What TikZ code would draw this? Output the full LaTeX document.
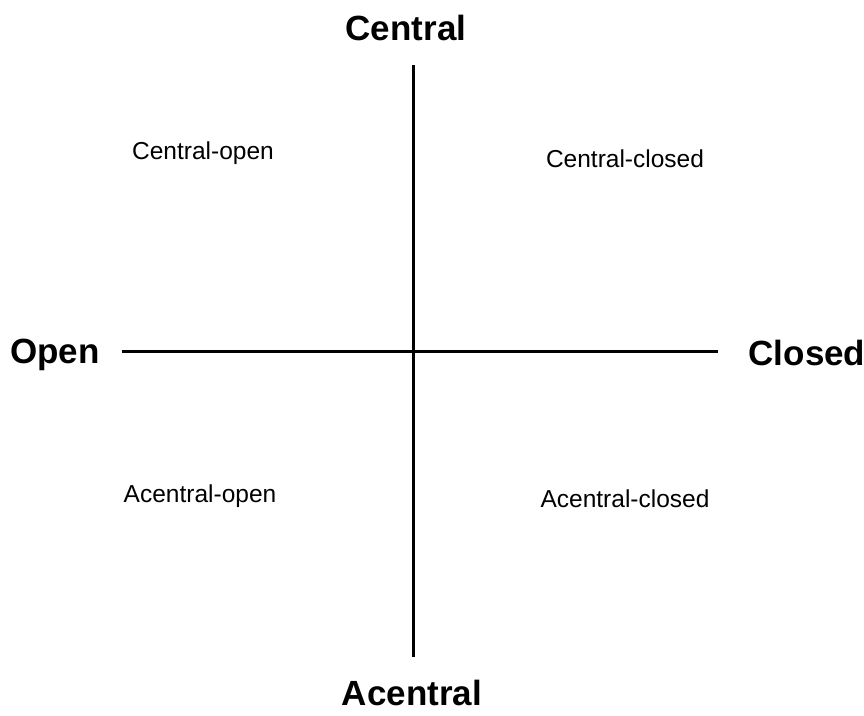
\documentclass[tikz,border=0pt]{standalone}
\usepackage{fontspec}
\setmainfont{Liberation Sans}
\begin{document}
\begin{tikzpicture}[x=1pt,y=-1pt,
  axis/.style={line width=3pt},
  pole/.style={font=\fontsize{35}{40}\selectfont\bfseries, inner sep=0pt, anchor=base},
  quad/.style={font=\fontsize{24.5}{28}\selectfont, inner sep=0pt, anchor=base}]
\useasboundingbox[fill=white] (0,0) rectangle (864,715);
\node[pole] (c) at (406,40.5) {Central};
\node[pole] (a) at (412,705.5) {Acentral};
\node[pole] (o) at (55,363.5) {Open};
\node[pole] (cl) at (807,365.5) {Closed};
\coordinate (vt) at (413,65);
\coordinate (vb) at (413,657);
\coordinate (hl) at (122,351);
\coordinate (hr) at (718,351);
\draw[axis] (vt) -- (vb);
\draw[axis] (hl) -- (hr);
\node[quad] (co) at (203,159) {Central-open};
\node[quad] (cc) at (625,167) {Central-closed};
\node[quad] (ao) at (200,502) {Acentral-open};
\node[quad] (ac) at (625,507) {Acentral-closed};
\end{tikzpicture}
\end{document}
